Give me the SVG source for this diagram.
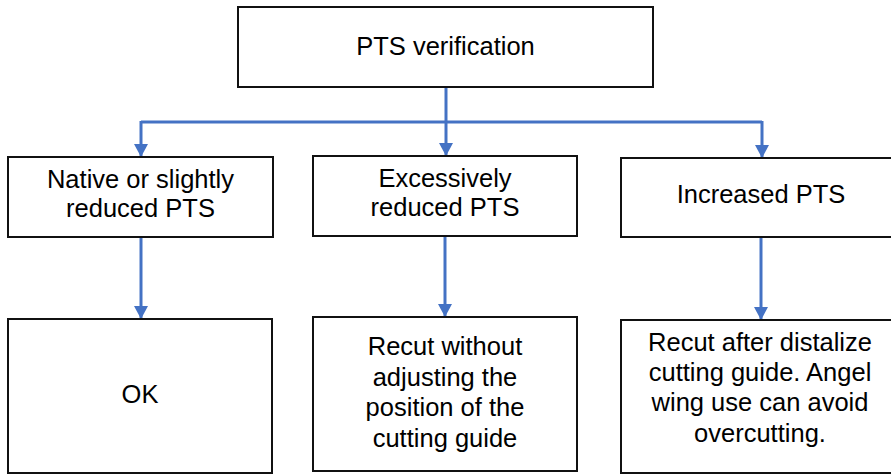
<svg xmlns="http://www.w3.org/2000/svg" width="891" height="475" viewBox="0 0 891 475">
<style>
.box{fill:#fff;stroke:#111;stroke-width:2}
.t{font-family:"Liberation Sans",Arial,sans-serif;font-size:25.5px;fill:#000;text-anchor:middle}
.c{fill:none;stroke:#4472C4;stroke-width:3}
</style>
<defs>
<marker id="ah" markerUnits="userSpaceOnUse" markerWidth="14" markerHeight="14" refX="13" refY="7" orient="auto">
<path d="M0,0 L13,7 L0,14 Z" fill="#4472C4"/>
</marker>
</defs>
<rect width="891" height="475" fill="#fff"/>
<g id="connectors">
<path class="c" d="M446,87 V122"/>
<path class="c" d="M141,122 H762"/>
<path class="c" d="M141,121 V157" marker-end="url(#ah)"/>
<path class="c" d="M446,122 V156" marker-end="url(#ah)"/>
<path class="c" d="M762,121 V158" marker-end="url(#ah)"/>
<path class="c" d="M141,237 V319" marker-end="url(#ah)"/>
<path class="c" d="M445,236 V317" marker-end="url(#ah)"/>
<path class="c" d="M761,237 V320" marker-end="url(#ah)"/>
</g>
<g id="root">
<rect class="box" x="238" y="7" width="415" height="80"/>
<text class="t" x="445.5" y="55">PTS verification</text>
</g>
<g id="native">
<rect class="box" x="8" y="157" width="265" height="80"/>
<text class="t" x="140.5" y="188">Native or slightly</text>
<text class="t" x="140.5" y="217">reduced PTS</text>
</g>
<g id="excessive">
<rect class="box" x="313" y="156" width="264" height="80"/>
<text class="t" x="445" y="187">Excessively</text>
<text class="t" x="445" y="216">reduced PTS</text>
</g>
<g id="increased">
<rect class="box" x="621" y="158" width="280" height="79"/>
<text class="t" x="761" y="203">Increased PTS</text>
</g>
<g id="ok">
<rect class="box" x="8" y="319" width="264" height="154"/>
<text class="t" x="140" y="403">OK</text>
</g>
<g id="recut-without">
<rect class="box" x="313" y="317" width="264" height="154"/>
<text class="t" x="445" y="355">Recut without</text>
<text class="t" x="445" y="385.5">adjusting the</text>
<text class="t" x="445" y="416">position of the</text>
<text class="t" x="445" y="446.5">cutting guide</text>
</g>
<g id="recut-after">
<rect class="box" x="621" y="320" width="280" height="153"/>
<text class="t" x="760" y="351">Recut after distalize</text>
<text class="t" x="760" y="381">cutting guide. Angel</text>
<text class="t" x="760" y="411">wing use can avoid</text>
<text class="t" x="760" y="442">overcutting.</text>
</g>
</svg>
